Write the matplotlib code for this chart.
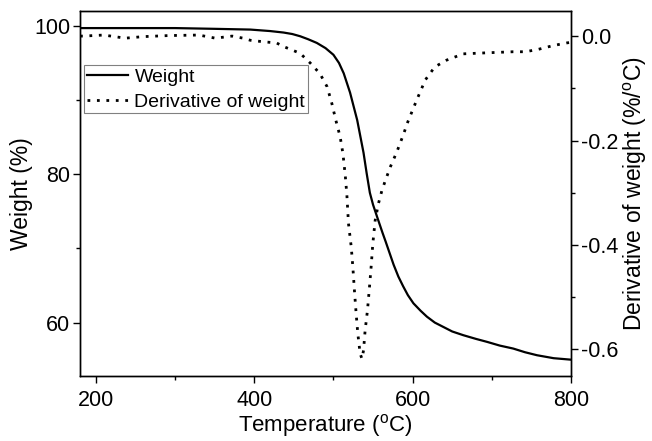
import matplotlib
matplotlib.use('Agg')
import matplotlib.pyplot as plt
from matplotlib.ticker import MultipleLocator, FormatStrFormatter

plt.rcParams['font.family'] = ['Liberation Sans', 'DejaVu Sans']
plt.rcParams['mathtext.fontset'] = 'custom'
plt.rcParams['mathtext.rm'] = 'Liberation Sans'
plt.rcParams['axes.unicode_minus'] = False

# weight curve (%) vs temperature (C)
temp_w = [180, 250, 300, 350, 395, 420, 437, 448, 458, 468, 479, 490, 500, 507, 513,
          521, 530, 538, 542, 546, 550, 555, 562, 566, 576, 582, 588, 594, 601, 610, 618, 628,
          639, 650, 664, 680, 694, 710, 727, 742, 757, 778, 800]
weight = [99.7, 99.7, 99.7, 99.6, 99.5, 99.3, 99.1, 98.9, 98.6, 98.2, 97.7, 97.0, 96.1, 95.0, 93.6,
          91.0, 87.3, 82.9, 80.1, 77.5, 75.9, 74.3, 72.1, 70.9, 67.8, 66.2, 64.9, 63.7, 62.6, 61.6, 60.8, 60.0,
          59.4, 58.8, 58.3, 57.8, 57.4, 56.9, 56.5, 56.0, 55.6, 55.2, 55.0]

# derivative of weight (%/C)
temp_d = [180, 184, 210, 237, 260, 292, 330, 351, 372, 386, 395, 412, 428, 437, 458,
          471, 483, 492, 498, 503, 508.5, 512, 515, 517, 519, 522.5, 524.5, 526.5,
          528.7, 530.8, 533.7, 536, 538, 540, 543, 545.5, 547.6, 549.7, 552.7,
          556.8, 561, 565, 572, 580, 588, 594, 605, 616, 628, 643, 664, 694, 727,
          742, 757, 778, 795, 800]
deriv = [0.0, 0.0, 0.002, -0.004, -0.001, 0.001, 0.002, -0.004, 0.0, -0.004, -0.008, -0.011, -0.013, -0.02, -0.033,
         -0.052, -0.072, -0.097, -0.129, -0.161, -0.193, -0.225, -0.268, -0.305, -0.359, -0.404, -0.442, -0.487,
         -0.532, -0.570, -0.608, -0.618, -0.602, -0.564, -0.525, -0.481, -0.442, -0.398, -0.353,
         -0.321, -0.297, -0.279, -0.25, -0.222, -0.19, -0.164, -0.123, -0.084, -0.059, -0.046, -0.034, -0.032, -0.030,
         -0.030, -0.026, -0.018, -0.013, -0.012]

fig = plt.figure(figsize=(6.52, 4.41), dpi=100)
ax = fig.add_axes([0.1227, 0.1474, 0.7531, 0.8276])
ax2 = ax.twinx()

l1, = ax.plot(temp_w, weight, color='black', linewidth=1.6, label='Weight')
l2, = ax2.plot(temp_d, deriv, color='black', linewidth=2, linestyle=(0, (1, 2.4)),
               label='Derivative of weight')

ax.set_xlim(180, 800)
ax.set_ylim(52.8, 102.0)
ax2.set_ylim(-0.651, 0.048)

ax.xaxis.set_major_locator(MultipleLocator(200))
ax.xaxis.set_minor_locator(MultipleLocator(100))
ax.yaxis.set_major_locator(MultipleLocator(20))
ax.yaxis.set_minor_locator(MultipleLocator(10))
ax2.yaxis.set_major_locator(MultipleLocator(0.2))
ax2.yaxis.set_minor_locator(MultipleLocator(0.1))
ax2.yaxis.set_major_formatter(FormatStrFormatter('%.1f'))

for a in (ax, ax2):
    for s in a.spines.values():
        s.set_linewidth(1.0)
    a.tick_params(which='major', direction='out', length=5, width=1.0, labelsize=15.5, pad=2)
    a.tick_params(which='minor', direction='out', length=3, width=1.0)
ax.tick_params(axis='x', which='major', pad=5)
ax.tick_params(axis='y', which='both', right=False)

ax.set_xlabel(r'Temperature ($^{\rm o}$C)', fontsize=16, labelpad=1)
ax.set_ylabel('Weight (%)', fontsize=16.5, labelpad=1)
ax2.set_ylabel(r'Derivative of weight (%/$^{\rm o}$C)', fontsize=16.5, labelpad=3)

leg = ax.legend([l1, l2], ['Weight', 'Derivative of weight'], loc='upper left',
                bbox_to_anchor=(0.008, 0.852), borderaxespad=0, fontsize=14,
                frameon=True, fancybox=False, edgecolor='gray', framealpha=1,
                handlelength=2.1, handletextpad=0.35, borderpad=0.15, labelspacing=0.38)
leg.get_frame().set_linewidth(0.8)

fig.savefig('out.png', dpi=100)
